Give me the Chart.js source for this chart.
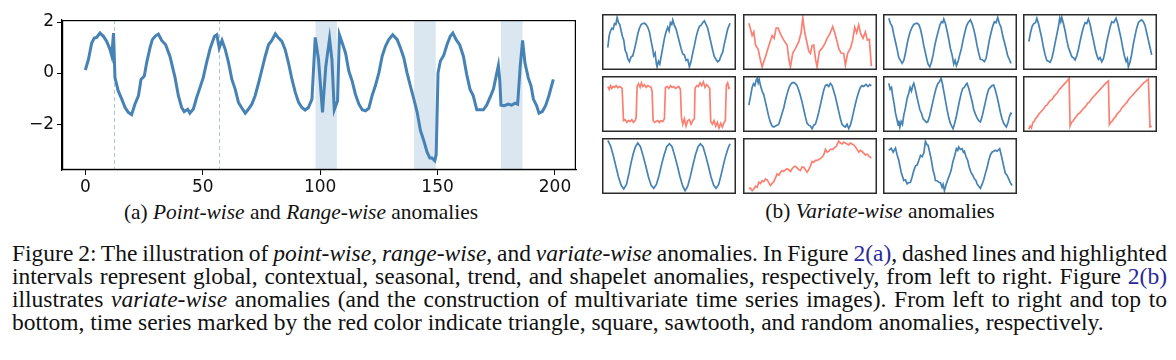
<!DOCTYPE html>
<html>
<head>
<meta charset="utf-8">
<title>Figure 2</title>
<script src="https://cdn.jsdelivr.net/npm/chart.js"></script>
<style>
  body { margin: 0; background: #fff; width: 1176px; height: 360px; position: relative; overflow: hidden;
         font-family: "Liberation Serif", "Times New Roman", serif; color: #111; }
  canvas { position: absolute; }
  .sub { position: absolute; font-size: 21.4px; line-height: 20px; white-space: nowrap; text-align: center; }
  .cap { position: absolute; left: 12px; width: 1155px; font-size: 23.5px; line-height: 23.1px; }
  .cap div { white-space: nowrap; text-align: justify; text-align-last: justify; word-spacing: -2px; }
  .cap div.last { text-align-last: left; word-spacing: 0; }
  .link { color: #2a2a9a; }
</style>
</head>
<body>
<canvas id="main" width="590" height="200" style="left:0;top:0"></canvas>

<div class="sub" style="left:51px;top:202px;width:500px">(a) <i>Point-wise</i> and <i>Range-wise</i> anomalies</div>
<div class="sub" style="left:730px;top:201px;width:300px">(b) <i>Variate-wise</i> anomalies</div>

<div class="cap" style="top:242px">
  <div>Figure 2: The illustration of <i>point-wise</i>, <i>range-wise</i>, and <i>variate-wise</i> anomalies. In Figure <span class="link">2(a)</span>, dashed lines and highlighted</div>
  <div>intervals represent global, contextual, seasonal, trend, and shapelet anomalies, respectively, from left to right. Figure <span class="link">2(b)</span></div>
  <div>illustrates <i>variate-wise</i> anomalies (and the construction of multivariate time series images). From left to right and top to</div>
  <div class="last">bottom, time series marked by the red color indicate triangle, square, sawtooth, and random anomalies, respectively.</div>
</div>

<script>
// (a) one series with point-wise and range-wise anomalies: [time, value]
var mainSeries = [
  [0,0.12],[1.3,0.53],[2.7,1.18],[3.8,1.37],[4.8,1.4],[6.2,1.57],[7.7,1.44],[9.1,1.24],[10.5,0.92],[11.2,0.69],
  [12,1.57],[12.6,-0.18],[14,-0.7],[15.5,-1.02],[16.9,-1.35],[18.3,-1.54],[19.7,-1.63],[21.1,-1.22],[22.6,-0.89],[23.7,-0.25],
  [25.1,-0.12],[26.1,0.4],[27.5,0.98],[28.5,1.31],[29.9,1.46],[31.1,1.53],[32.5,1.28],[34.2,1.11],[36,0.66],[38.2,-0.18],
  [39.6,-0.89],[41,-1.35],[42.1,-1.51],[43.6,-1.42],[44.5,-1.57],[46,-1.41],[47.4,-0.96],[48.8,-0.57],[50.2,-0.18],[51.6,0.4],
  [53.2,0.98],[55,1.44],[56,1.5],[57,0.98],[58.2,1.28],[59.6,0.92],[61,0.4],[62.4,-0.25],[63.8,-0.63],[65.2,-1.15],
  [66.7,-1.38],[68.1,-1.57],[69.5,-1.41],[70.9,-1.22],[72.3,-0.89],[73.8,-0.38],[75.2,0.14],[76.6,0.66],[78,1.11],[79.4,1.28],
  [80.9,1.54],[82.3,1.37],[83.7,1.24],[85.1,0.92],[86.5,0.4],[88,-0.25],[89.4,-0.76],[90.8,-1.15],[92.2,-1.35],[93.6,-1.45],
  [95,-1.35],[96.5,-1.02],[97.9,1.4],[99.3,0.53],[101,-1.54],[102.4,0.27],[104,1.35],[105,0.53],[106,-1.44],[107.4,-1.09],
  [108.2,1.5],[109.4,1.18],[110.8,0.79],[112.2,0.08],[113.6,-0.31],[115,-0.83],[116.5,-1.22],[117.9,-1.44],[119.3,-1.48],[120.7,-1.38],
  [122.1,-0.89],[123.5,-0.5],[125,0.01],[126.4,0.66],[127.8,1.05],[129.2,1.31],[130.9,1.5],[132.8,1.31],[134.2,0.98],[135.6,0.6],
  [137,0.01],[138.4,-0.5],[139.9,-1.02],[141.3,-1.54],[142.7,-2.25],[144.1,-2.64],[145.5,-3.09],[146.7,-3.33],[147.6,-3.33],[148.8,-3.44],
  [149.4,-3.2],[150.2,0.01],[151.2,0.47],[152.6,0.69],[154,1.11],[155.4,1.44],[156.5,1.57],[157.9,1.31],[159.4,1.11],[161,0.66],
  [162.4,-0.05],[163.8,-0.63],[165.2,-0.89],[166.7,-1.44],[168.1,-1.44],[169.5,-1.44],[170.9,-1.26],[172.3,-0.96],[173.8,-0.63],[174.8,-0.18],
  [175.9,0.3],[176.5,-0.3],[177,-1.26],[178.4,-1.28],[180.1,-1.22],[181.5,-1.26],[183,-1.18],[184.1,-1.22],[185.2,0.27],[186.2,1.28],
  [187.2,0.4],[188.6,-0.18],[189.8,-0.5],[190.8,-1.02],[192.2,-1.28],[193.2,-1.57],[194.6,-1.51],[196,-1.28],[197.4,-0.89],[199.3,-0.25]
];
var pointAnomalies = [12, 57];
var rangeAnomalies = [[98, 107.1], [140, 149.2], [177, 186.2]];
var xTicks = [0, 50, 100, 150, 200];
var yTicks = [-2, 0, 2];

// (b) variate-wise panels, left to right, top to bottom: [time, value]
var panel1 = [[0,-0.3],[4,0.35],[8,0.6],[12,0.75],[16,0.7],[20,1.0],[24,0.95],[28,1.33],[32,1.05],[36,0.95],[40,0.6],[44,0.3],[48,0.1],[52,-0.45],[56,-0.6],[60,-0.9],[65,-1.07],[70,-0.8],[75,-0.75],[80,-0.4],[85,0.0],[90,0.45],[95,0.75],[100,0.95],[105,1.0],[110,1.02],[115,0.95],[120,0.8],[125,0.55],[130,0.05],[134,-0.3],[138,-0.75],[142,-0.6],[146,-1.2],[148,-1.35],[152,-1.05],[156,-1.2],[160,-0.8],[165,-0.3],[170,0.2],[175,0.55],[180,0.8],[184,0.6],[188,1.05],[192,0.95],[195,1.2],[200,0.9],[205,0.7],[210,0.35],[215,0.0],[220,-0.35],[225,-0.65],[230,-0.7],[235,-1.0],[240,-0.95],[245,-1.35],[250,-1.05],[255,-0.6],[260,-0.2],[265,0.25],[270,0.6],[275,0.85],[280,0.9],[285,1.05],[290,1.15],[295,0.95],[300,0.75],[305,0.35],[310,-0.05],[315,-0.45],[320,-0.8],[325,-0.95],[330,-1.07],[335,-1.0],[340,-0.75],[345,-0.55],[350,-0.1],[355,0.3],[360,0.7],[367,1.02]];
var panel2 = [[0,1.02],[5,0.7],[10,0.35],[15,0.55],[20,-0.16],[28,-0.4],[35,-1.0],[40,-1.35],[50,-0.8],[60,-0.2],[70,0.35],[76,0.2],[82,0.75],[88,0.75],[96,0.4],[105,0.1],[115,-0.16],[120,-0.9],[125,-1.35],[132,-0.6],[140,-0.35],[150,0.02],[157,0.5],[162,1.33],[168,0.5],[175,-0.07],[180,-0.5],[185,-0.62],[190,-0.2],[195,-0.16],[200,-0.9],[205,-1.35],[212,-0.5],[220,-0.35],[228,-0.1],[235,0.2],[242,0.4],[248,0.65],[252,0.84],[258,0.5],[264,0.1],[270,-0.35],[277,-0.6],[285,-0.62],[290,-1.25],[297,-0.6],[305,-0.35],[312,0.1],[318,0.8],[324,0.5],[330,0.93],[336,0.45],[343,0.2],[350,0.55],[356,0.1],[362,0.15],[368,-1.31]];
var panel3 = [[0,1.29],[5,1.0],[10,0.85],[15,0.4],[20,0.0],[25,-0.4],[30,-0.85],[35,-1.0],[40,-1.16],[45,-1.0],[50,-0.6],[55,-0.1],[60,0.3],[65,0.6],[70,0.8],[75,0.95],[80,1.0],[85,1.02],[90,0.95],[95,0.7],[100,0.3],[105,-0.2],[110,-0.6],[115,-1.0],[118,-1.2],[123,-1.35],[128,-1.1],[133,-0.7],[138,-0.2],[143,0.2],[148,0.55],[153,0.9],[158,1.1],[162,1.05],[165,1.25],[170,1.0],[175,0.6],[180,0.15],[185,-0.35],[190,-0.7],[195,-1.2],[199,-1.0],[203,-1.29],[208,-1.05],[213,-0.7],[218,-0.35],[223,0.1],[228,0.5],[233,0.85],[238,1.05],[245,1.2],[250,1.0],[255,0.7],[260,0.3],[265,-0.2],[270,-0.6],[275,-0.95],[280,-0.95],[287,-1.07],[292,-0.9],[297,-0.4],[302,0.1],[307,0.5],[312,0.85],[317,1.1],[322,1.05],[327,1.33],[332,1.0],[337,0.8],[342,0.35],[347,0.0],[352,-0.35],[357,-0.75],[362,-0.95],[367,-1.16]];
var panel4 = [[0,0.02],[5,0.5],[10,0.85],[15,1.0],[20,1.05],[24,1.29],[29,1.0],[34,0.6],[39,0.2],[44,-0.3],[49,-0.7],[54,-1.0],[59,-1.05],[64,-1.1],[69,-0.9],[74,-0.5],[79,-0.05],[84,0.4],[89,0.85],[93,1.3],[96,1.1],[99,1.33],[104,1.0],[109,0.6],[114,0.1],[119,-0.3],[124,-0.55],[129,-0.8],[134,-0.85],[139,-0.98],[144,-0.75],[149,-0.4],[154,0.05],[159,0.45],[164,0.8],[169,1.05],[174,1.0],[179,1.25],[184,0.95],[189,0.5],[194,0.1],[199,-0.35],[204,-0.7],[209,-0.95],[214,-0.85],[219,-1.07],[224,-0.9],[229,-0.5],[234,0.0],[239,0.4],[244,0.8],[249,1.1],[255,1.05],[262,1.29],[267,1.0],[272,0.6],[277,0.2],[282,-0.3],[287,-0.75],[292,-1.05],[296,-0.9],[299,-1.35],[304,-1.1],[309,-0.65],[314,-0.1],[319,0.35],[324,0.75],[329,1.05],[334,1.15],[339,1.2],[344,1.1],[349,0.9],[354,0.5],[359,0.1],[364,-0.3],[369,-0.7]];
var panel5 = [[0,0.94],[4,0.8],[8,1.0],[12,0.85],[16,0.95],[20,0.9],[25,1.0],[30,0.88],[35,0.95],[40,0.9],[43,0.85],[47,-0.9],[52,-0.85],[57,-1.0],[62,-0.9],[67,-0.95],[72,-0.85],[77,-1.0],[82,-0.9],[85,-0.75],[88,0.95],[92,1.1],[97,0.9],[101,1.15],[105,0.95],[110,1.05],[115,0.9],[120,1.0],[125,0.95],[130,0.9],[133,0.7],[136,-0.9],[140,-1.0],[145,-0.95],[150,-0.9],[155,-1.0],[160,-0.9],[165,-0.95],[170,-0.8],[173,0.9],[178,0.95],[183,0.85],[188,1.0],[193,0.9],[198,0.95],[203,0.85],[208,0.9],[213,0.95],[218,0.8],[221,-0.7],[225,-1.1],[230,-0.8],[235,-1.2],[240,-0.9],[245,-0.85],[250,-1.1],[255,-0.9],[260,-0.8],[262,0.85],[267,1.0],[272,0.95],[277,1.15],[282,1.0],[287,1.2],[292,0.9],[297,1.05],[302,0.95],[306,0.85],[309,-0.95],[314,-1.1],[319,-0.9],[324,-1.2],[329,-1.0],[334,-1.3],[339,-1.05],[344,-1.25],[349,-1.0],[353,-0.9],[356,1.0],[360,1.15],[364,0.85],[367,0.9]];
var panel6 = [[0,-0.06],[5,0.4],[10,0.9],[14,1.1],[18,1.0],[22,1.3],[25,1.39],[28,1.15],[31,1.35],[35,1.0],[40,0.7],[45,0.5],[50,0.1],[55,-0.3],[60,-0.7],[65,-1.0],[70,-1.2],[75,-1.25],[80,-1.2],[85,-1.15],[90,-1.1],[95,-0.8],[100,-0.5],[105,-0.2],[110,0.2],[115,0.55],[120,0.85],[125,1.05],[130,1.15],[135,1.17],[140,1.1],[145,1.0],[150,0.75],[155,0.45],[160,0.1],[165,-0.3],[170,-0.7],[175,-1.05],[180,-1.15],[185,-1.2],[190,-1.34],[195,-1.15],[200,-1.1],[205,-0.8],[210,-0.45],[215,-0.05],[220,0.35],[225,0.75],[230,1.0],[235,1.05],[240,0.95],[245,1.12],[250,1.0],[255,0.7],[260,0.4],[265,0.0],[270,-0.4],[275,-0.8],[280,-1.1],[285,-1.2],[290,-1.25],[295,-1.1],[300,-1.34],[305,-1.15],[310,-0.8],[315,-0.4],[320,0.0],[325,0.35],[330,0.65],[335,0.9],[340,1.0],[345,0.95],[352,1.06],[358,0.95],[363,1.05],[368,0.99]];
var panel7 = [[0,1.12],[4,0.8],[8,0.9],[12,0.4],[16,0.0],[20,-0.5],[24,-0.8],[28,-1.15],[30,-0.9],[33,-1.25],[37,-0.95],[41,-1.1],[45,-0.6],[50,-0.2],[55,0.3],[60,0.6],[64,0.9],[68,0.7],[72,1.0],[75,1.12],[79,0.85],[83,0.5],[88,0.1],[93,-0.3],[98,-0.5],[103,-0.8],[108,-0.9],[113,-1.0],[117,-0.97],[122,-0.7],[127,-0.3],[132,0.1],[137,0.5],[142,0.85],[147,1.1],[152,1.2],[157,1.39],[161,1.1],[165,0.7],[170,0.2],[175,-0.3],[180,-0.75],[185,-1.05],[189,-1.2],[193,-1.34],[197,-1.1],[202,-0.75],[207,-0.3],[212,0.15],[217,0.55],[222,0.85],[227,0.9],[231,1.05],[235,1.12],[240,0.85],[245,0.5],[250,0.15],[255,-0.3],[260,-0.55],[265,-0.75],[270,-0.9],[275,-0.97],[280,-0.7],[285,-0.3],[290,0.1],[295,0.5],[300,0.8],[305,0.9],[310,1.0],[315,1.03],[320,0.75],[325,0.4],[330,0.0],[335,-0.45],[340,-0.8],[345,-1.05],[349,-1.15],[353,-1.25],[358,-1.0],[362,-0.7],[366,-0.5],[370,-0.52]];
var panel8 = [[0,-1.37],[4,-1.2],[8,-1.3],[12,-1.0],[16,-0.95],[20,-0.8],[25,-0.7],[30,-0.55],[35,-0.45],[40,-0.35],[45,-0.25],[50,-0.1],[55,-0.05],[60,0.1],[65,0.2],[70,0.25],[75,0.4],[80,0.5],[85,0.6],[90,0.75],[95,0.85],[100,0.95],[105,1.05],[110,1.15],[115,1.25],[121,1.39],[124,-1.19],[128,-1.0],[132,-0.95],[137,-0.8],[142,-0.7],[147,-0.55],[152,-0.5],[157,-0.4],[162,-0.3],[167,-0.2],[172,-0.1],[177,0.05],[182,0.1],[187,0.25],[192,0.35],[197,0.45],[202,0.55],[207,0.65],[212,0.75],[217,0.85],[222,0.95],[227,1.05],[232,1.15],[239,1.25],[242,-1.12],[246,-1.0],[250,-0.95],[255,-0.8],[260,-0.7],[265,-0.55],[270,-0.45],[275,-0.35],[280,-0.2],[285,-0.1],[290,0.0],[295,0.1],[300,0.25],[305,0.35],[310,0.45],[315,0.55],[320,0.65],[325,0.75],[330,0.85],[335,0.95],[340,1.05],[345,1.15],[350,1.2],[355,1.3],[359,1.35],[364,-1.25],[369,-1.2]];
var panel9 = [[0,1.39],[8,1.1],[16,0.6],[24,0.0],[32,-0.6],[40,-1.05],[48,-1.25],[56,-1.0],[63,-0.45],[69,0.1],[76,0.65],[83,1.05],[90,1.25],[98,1.05],[106,0.55],[114,0.0],[122,-0.6],[130,-1.05],[138,-1.21],[146,-1.0],[154,-0.5],[161,0.05],[169,0.6],[177,1.05],[185,1.21],[193,1.05],[201,0.55],[209,0.0],[217,-0.6],[225,-1.1],[232,-1.34],[240,-1.1],[248,-0.55],[255,0.0],[263,0.6],[271,1.05],[278,1.21],[286,1.05],[294,0.55],[302,0.0],[310,-0.6],[318,-1.05],[325,-1.21],[333,-1.0],[340,-0.5],[347,0.05],[354,0.55],[361,0.95],[367,1.21]];
var panel10 = [[0,-1.21],[5,-1.2],[10,-1.34],[15,-1.25],[20,-1.1],[25,-1.15],[30,-0.88],[35,-0.95],[40,-0.8],[45,-0.85],[50,-0.7],[55,-0.75],[60,-0.9],[65,-1.06],[70,-0.95],[75,-0.85],[80,-0.65],[85,-0.43],[90,-0.5],[95,-0.35],[100,-0.25],[105,-0.3],[110,-0.2],[115,-0.15],[120,-0.2],[125,-0.3],[130,-0.15],[135,-0.05],[140,-0.01],[145,-0.1],[150,-0.2],[155,-0.25],[160,-0.05],[165,-0.07],[170,-0.2],[175,-0.34],[180,-0.2],[185,0.0],[190,0.25],[195,0.2],[200,0.3],[205,0.3],[210,0.35],[215,0.4],[220,0.48],[225,0.6],[230,0.9],[235,0.75],[240,0.8],[245,0.9],[252,0.9],[257,1.0],[262,1.05],[266,1.2],[270,1.35],[275,1.25],[280,1.2],[285,1.3],[290,1.25],[295,1.2],[300,1.15],[305,1.25],[310,1.2],[315,1.15],[320,1.05],[325,0.9],[330,0.75],[335,0.85],[340,0.8],[345,0.7],[350,0.6],[355,0.65],[360,0.55],[368,0.43]];
var panel11 = [[0,0.85],[7,0.97],[13,0.75],[20,0.97],[25,0.6],[30,0.3],[37,-0.34],[45,-0.79],[50,-0.75],[55,-0.97],[60,-0.9],[65,-0.88],[70,-0.6],[75,-0.25],[80,0.0],[85,0.05],[90,0.3],[95,0.57],[100,0.5],[105,0.7],[110,1.34],[115,1.15],[118,1.12],[122,0.8],[127,0.4],[133,-0.25],[137,-0.5],[140,-0.79],[145,-0.8],[150,-0.88],[155,-0.9],[160,-1.15],[163,-1.0],[167,-1.34],[172,-1.0],[177,-0.75],[182,-0.5],[187,-0.25],[192,0.2],[197,0.5],[203,0.94],[207,0.85],[210,1.03],[215,0.9],[220,0.94],[224,0.75],[227,0.8],[232,0.5],[237,0.3],[242,-0.1],[247,-0.35],[252,-0.5],[257,-0.7],[262,-0.8],[265,-0.97],[270,-1.1],[275,-1.21],[280,-1.0],[285,-0.75],[290,-0.4],[295,-0.1],[300,0.3],[305,0.6],[310,0.75],[315,0.8],[320,0.85],[325,0.8],[333,0.94],[337,0.65],[340,0.4],[345,0.0],[350,-0.4],[355,-0.5],[360,-0.7],[365,-0.9],[370,-1.06]];
var panels = [panel1, panel2, panel3, panel4, panel5, panel6, panel7, panel8, panel9, panel10, panel11];
var anomalous = [false, true, false, false, true, false, false, true, false, true, false]; // red = injected anomaly

var BLUE = '#4682b4';
var RED = '#fa8072';

// box around the plotting area, like matplotlib spines
var framePlugin = {
  id: 'frame',
  afterDraw: function (chart, args, opts) {
    var a = chart.chartArea, c = chart.ctx;
    c.save();
    c.strokeStyle = opts.color || '#000';
    c.lineWidth = opts.width || 1;
    var h = c.lineWidth / 2;
    c.strokeRect(a.left + h, a.top + h, a.right - a.left - 2 * h, a.bottom - a.top - 2 * h);
    c.restore();
  }
};

// shaded intervals and dashed lines for the anomalies
var anomalyPlugin = {
  id: 'anomalies',
  beforeDatasetsDraw: function (chart) {
    var x = chart.scales.x, a = chart.chartArea, c = chart.ctx;
    c.save();
    c.fillStyle = 'rgba(70,130,180,0.2)';
    rangeAnomalies.forEach(function (r) {
      var x0 = x.getPixelForValue(r[0]), x1 = x.getPixelForValue(r[1]);
      c.fillRect(x0, a.top, x1 - x0, a.bottom - a.top);
    });
    c.strokeStyle = 'rgba(70,130,180,0.45)';
    c.lineWidth = 1;
    c.setLineDash([4, 3]);
    pointAnomalies.forEach(function (p) {
      var px = Math.round(x.getPixelForValue(p)) + 0.5;
      c.beginPath();
      c.moveTo(px, a.top);
      c.lineTo(px, a.bottom);
      c.stroke();
    });
    c.restore();
  }
};

function toPoints(arr) {
  return arr.map(function (p) { return { x: p[0], y: p[1] }; });
}

var tickFont = { family: 'DejaVu Sans', size: 17 };

new Chart(document.getElementById('main'), {
  type: 'line',
  data: {
    datasets: [{
      data: toPoints(mainSeries),
      borderColor: BLUE,
      borderWidth: 3,
      pointRadius: 0,
      tension: 0
    }]
  },
  options: {
    responsive: false,
    animation: false,
    layout: { padding: { top: 20, right: 14, left: 0, bottom: 0 } },
    plugins: { legend: { display: false }, tooltip: { enabled: false }, frame: { color: '#000', width: 1.2 } },
    scales: {
      x: {
        type: 'linear', min: -9.95, max: 208.95,
        afterBuildTicks: function (s) { s.ticks = xTicks.map(function (v) { return { value: v }; }); },
        afterFit: function (s) { s.height = 30; },
        grid: { drawOnChartArea: false, drawTicks: true, tickLength: 5, color: '#000' },
        border: { display: true, color: '#000', width: 1.2 },
        ticks: { font: tickFont, color: '#111', padding: 2, maxRotation: 0 }
      },
      y: {
        type: 'linear', min: -3.8, max: 2.08,
        afterBuildTicks: function (s) { s.ticks = yTicks.map(function (v) { return { value: v }; }); },
        afterFit: function (s) { s.width = 62; },
        grid: { drawOnChartArea: false, drawTicks: true, tickLength: 5, color: '#000' },
        border: { display: true, color: '#000', width: 1.2 },
        ticks: {
          font: tickFont, color: '#111', padding: 3,
          callback: function (v) { return v < 0 ? '\u2212' + Math.abs(v) : String(v); }
        }
      }
    }
  },
  plugins: [anomalyPlugin, framePlugin]
});

// grid of small panels
var colLeft = [602, 743, 883, 1023];
var rowTop = [14, 76, 138];
panels.forEach(function (series, i) {
  var cv = document.createElement('canvas');
  cv.width = 134;
  cv.height = 56;
  cv.style.left = colLeft[i % 4] + 'px';
  cv.style.top = rowTop[Math.floor(i / 4)] + 'px';
  document.body.appendChild(cv);
  new Chart(cv, {
    type: 'line',
    data: {
      datasets: [{
        data: toPoints(series),
        borderColor: anomalous[i] ? RED : BLUE,
        borderWidth: 1.7,
        pointRadius: 0,
        tension: 0
      }]
    },
    options: {
      responsive: false,
      animation: false,
      layout: { padding: 0 },
      plugins: { legend: { display: false }, tooltip: { enabled: false }, frame: { color: '#2b2b2b', width: 1.5 } },
      scales: {
        x: { type: 'linear', display: false, min: -17.5, max: 385 },
        y: { type: 'linear', display: false, min: -1.52, max: 1.52 }
      }
    },
    plugins: [framePlugin]
  });
});
</script>
</body>
</html>
